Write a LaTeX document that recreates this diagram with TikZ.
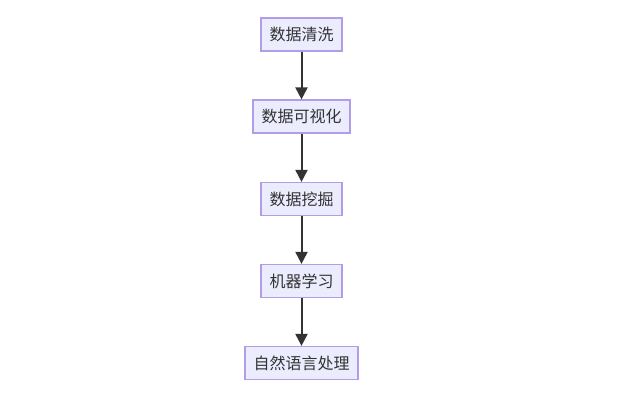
\documentclass[tikz,border=0pt]{standalone}
\usepackage{fontspec}
\newfontfamily\cjk{Noto Sans CJK SC}
\usetikzlibrary{arrows.meta}
\definecolor{boxfill}{HTML}{ECECFF}
\definecolor{boxline}{HTML}{B39DE8}
\definecolor{arrowc}{HTML}{333333}
\tikzset{
  stepbox/.style={draw=boxline, fill=boxfill, line width=1.2pt, minimum height=33pt,
    inner xsep=8.5pt, inner ysep=0pt, font=\cjk\fontsize{16pt}{18pt}\selectfont, text=arrowc},
  flow/.style={draw=arrowc, line width=2pt, -{Triangle[length=12pt,width=12pt]}}
}
\begin{document}
\begin{tikzpicture}[x=1pt,y=1pt]
\useasboundingbox (0,0) rectangle (619,400);
\node[stepbox] (a) at (301.5,365.5) {数据清洗};
\node[stepbox] (b) at (301.5,283.5) {数据可视化};
\node[stepbox] (c) at (301.5,201) {数据挖掘};
\node[stepbox] (d) at (301.5,119) {机器学习};
\node[stepbox] (e) at (301.5,37) {自然语言处理};
\draw[flow] (a) -- (b);
\draw[flow] (b) -- (c);
\draw[flow] (c) -- (d);
\draw[flow] (d) -- (e);
\end{tikzpicture}
\end{document}
